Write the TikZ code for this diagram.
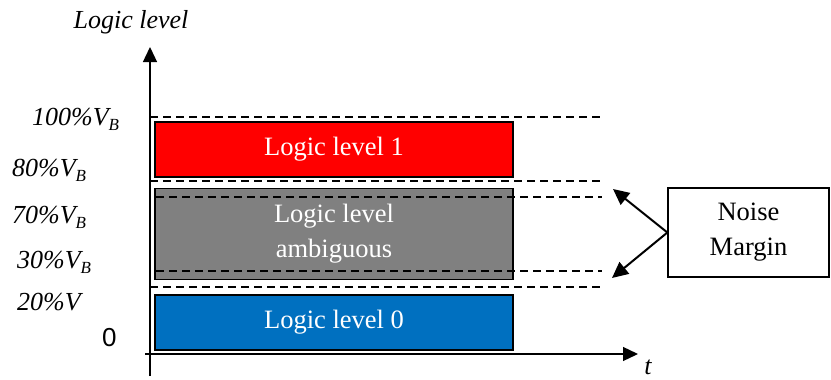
\documentclass[tikz,border=0pt]{standalone}
\usepackage{fontspec}
\setmainfont{Liberation Serif}
\newfontfamily\arialfont{Liberation Sans}
\usetikzlibrary{arrows.meta}
\newcommand{\subB}{\raisebox{-0.22em}{\fontsize{17}{17}\selectfont B}}
\tikzset{
  lvlbox/.style={draw=black, line width=1.3pt, minimum width=358pt, inner sep=0pt,
     font=\fontsize{26.5}{35}\selectfont, text=white, align=center},
  lbl/.style={anchor=base west, inner sep=0pt, font=\fontsize{26}{30}\selectfont\itshape},
  guide/.style={line width=1.3pt, dash pattern=on 8pt off 5pt},
  axis/.style={line width=1.3pt, -{Triangle[length=15pt,width=14pt]}},
  nmarrow/.style={line width=2pt, -{Triangle[length=16pt,width=15pt]}}
}
\begin{document}
\begin{tikzpicture}[x=1pt,y=-1pt]
\useasboundingbox (0,0) rectangle (831,380);
% boxes
\node[lvlbox, fill={rgb,255:red,255;green,0;blue,0}, minimum height=55pt] (red) at (334,149.5) {Logic level 1};
\node[lvlbox, fill={rgb,255:red,128;green,128;blue,128}, minimum height=91pt] (gray) at (334,234) {Logic level\\ambiguous};
\node[lvlbox, fill={rgb,255:red,0;green,112;blue,192}, minimum height=55pt] (blue) at (334,322.5) {Logic level 0};
% guides
\coordinate (g1a) at (150,117); \coordinate (g1b) at (602,117);
\coordinate (g2a) at (150,181); \coordinate (g2b) at (602,181);
\coordinate (g3a) at (156,197); \coordinate (g3b) at (602,197);
\coordinate (g4a) at (156,271); \coordinate (g4b) at (602,271);
\coordinate (g5a) at (150,287); \coordinate (g5b) at (602,287);
\draw[guide] (g1a) -- (g1b);
\draw[guide] (g2a) -- (g2b);
\draw[guide] (g3a) -- (g3b);
\draw[guide] (g4a) -- (g4b);
\draw[guide] (g5a) -- (g5b);
% axes
\coordinate (ya) at (150,376); \coordinate (yb) at (150,47);
\coordinate (xa) at (145,354); \coordinate (xb) at (638,354);
\draw[axis] (ya) -- (yb);
\draw[axis] (xa) -- (xb);
% axis labels
\node[font=\fontsize{26}{30}\selectfont\itshape, inner sep=0pt] (ylab) at (131,22) {Logic level};
\node[font=\fontsize{26}{30}\selectfont\itshape, inner sep=0pt] (tlab) at (648,367) {t};
\node[lbl] (l100) at (32,125) {100\%V\subB};
\node[lbl] (l80) at (12,176) {80\%V\subB};
\node[lbl] (l70) at (12,223) {70\%V\subB};
\node[lbl] (l30) at (17,268) {30\%V\subB};
\node[lbl] (l20) at (17,310) {20\%V};
\node[anchor=base west, inner sep=0pt, font=\arialfont\fontsize{26}{30}\selectfont] (l0) at (102,346) {0};
% noise margin
\node[draw=black, line width=1.3pt, minimum width=161pt, minimum height=89pt, inner sep=0pt,
      align=center, font=\fontsize{26.5}{35}\selectfont] (nm) at (748.5,232.5) {Noise\\Margin};
\coordinate (nm1) at (613,189);
\coordinate (nm2) at (612,278);
\draw[nmarrow] (nm.west) -- (nm1);
\draw[nmarrow] (nm.west) -- (nm2);
\end{tikzpicture}
\end{document}
